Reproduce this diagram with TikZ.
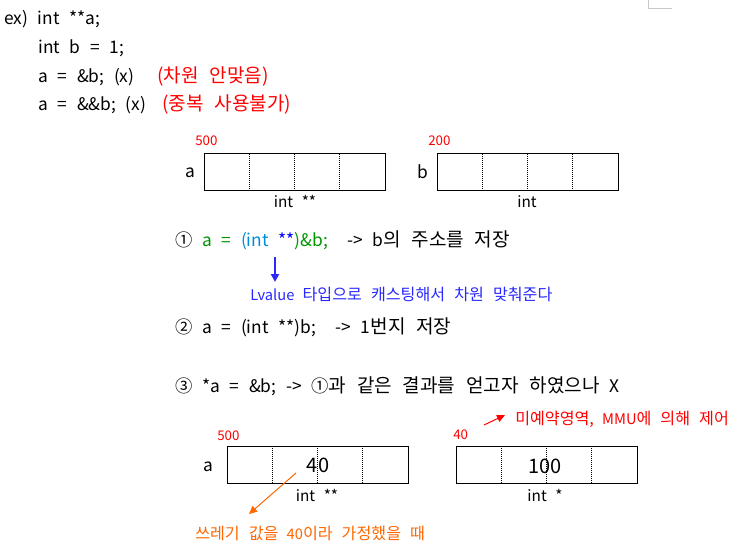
\documentclass[tikz,border=0pt]{standalone}
\usepackage{fontspec}
\setmainfont[WordSpace=2.5]{Noto Sans CJK KR}
\newfontfamily\hgfont[Scale=1.1,WordSpace=2.5]{Noto Sans CJK KR}
\newcommand\hg[1]{{\hgfont #1}}
\usetikzlibrary{arrows.meta}
\definecolor{notered}{RGB}{255,0,0}
\definecolor{noteorange}{RGB}{255,102,0}
\definecolor{noteblue}{RGB}{40,40,255}
\definecolor{castgreen}{RGB}{0,150,0}
\definecolor{casttype}{RGB}{0,140,215}
\definecolor{markgray}{RGB}{200,200,200}
\begin{document}
\begin{tikzpicture}[x=0.75pt,y=-0.75pt,inner sep=0pt,font=\fontsize{13}{15}\selectfont]
	\useasboundingbox[fill=white] (0,0) rectangle (735,549);
	\tikzset{memcell/.pic={
	\draw[line width=0.75pt](0,0)rectangle(181,37);
	\foreach \k in{1,2,3}
	\draw[line width=0.75pt,dash pattern=on 0.75pt off 0.75pt](\k*45.25,0)--++(0,37);
	}}
	\tikzset{codeline/.style={anchor=base west},
	addr/.style={anchor=base west,text=notered,font=\fontsize{10}{12}\selectfont},
	typelbl/.style={anchor=base,font=\fontsize{11.5}{13}\selectfont},
	cellval/.style={anchor=base,font=\fontsize{15}{17}\selectfont},
	note/.style={anchor=base west,font=\fontsize{11}{13}\selectfont}}
	% corner mark
	\draw[markgray,line width=0.75pt](648,0)--(648,9)--(672,9);
	% declarations
	\node[codeline](decla) at (4,25) {ex) int **a;};
	\node[codeline](declb) at (38,54) {int b = 1;};
	\node[codeline](wrong1) at (38,83) {a = \&b; (x)};
	\node[codeline,text=notered](wrong1r) at (157,83) {\hg{(차원 안맞음)}};
	\node[codeline](wrong2) at (38,111) {a = \&\&b; (x)};
	\node[codeline,text=notered](wrong2r) at (162,111) {\hg{(중복 사용불가)}};
	% memory before
	\path(204,154)pic{memcell} (437,154)pic{memcell};
	\node[anchor=base](avar) at (190,178) {a};
	\node[anchor=base](bvar) at (423,179) {b};
	\node[addr](aaddr) at (195,146) {500};
	\node[addr](baddr) at (428,146) {200};
	\node[typelbl](atype) at (295,207) {int **};
	\node[typelbl](btype) at (527,207) {int};
	% cases
	\node[codeline](case1) at (175,246) {① \textcolor{castgreen}{a = }\textcolor{casttype}{(int }\textcolor{blue}{**}\textcolor{castgreen}{)\&b;} \ -> b\hg{의 주소를 저장}};
	\coordinate(castA) at (275,257);
	\coordinate(castB) at (275,282);
	\draw[noteblue,line width=1.5pt,-{Triangle[length=6pt,width=6pt]}](castA)--(castB);
	\node[note,text=noteblue](lval) at (250,300) {Lvalue \hg{타입으로 캐스팅해서 차원 맞춰준다}};
	\node[codeline](case2) at (175,333) {② a = (int **)b; \ -> 1\hg{번지 저장}};
	\node[codeline](case3) at (175,392) {③ *a = \&b; -> ①\hg{과 같은 결과를 얻고자 하였으나} X};
	% memory after
	\path(227,446)pic{memcell} (456,446)pic{memcell};
	\node[anchor=base](avar2) at (208,471) {a};
	\node[addr](aaddr2) at (217,440) {500};
	\node[addr](gaddr) at (453,439) {40};
	\node[cellval](aval) at (318,472) {40};
	\node[cellval](gval) at (545,473) {100};
	\node[typelbl](atype2) at (317,501) {int **};
	\node[typelbl](gtype) at (545,501) {int *};
	\coordinate(mmuA) at (484,425);
	\coordinate(mmuB) at (505,415);
	\draw[notered,line width=0.75pt,-{Triangle[length=6pt,width=5.5pt]}](mmuA)--(mmuB);
	\node[note,text=notered](mmu) at (515,424) {\hg{미예약영역,} MMU\hg{에 의해 제어}};
	\coordinate(junkA) at (296,473);
	\coordinate(junkB) at (249,514);
	\draw[noteorange,line width=0.75pt,-{Triangle[length=6pt,width=5.5pt]}](junkA)--(junkB);
	\node[note,text=noteorange](junk) at (195,539) {\hg{쓰레기 값을} 40\hg{이라 가정했을 때}};
\end{tikzpicture}
\end{document}
